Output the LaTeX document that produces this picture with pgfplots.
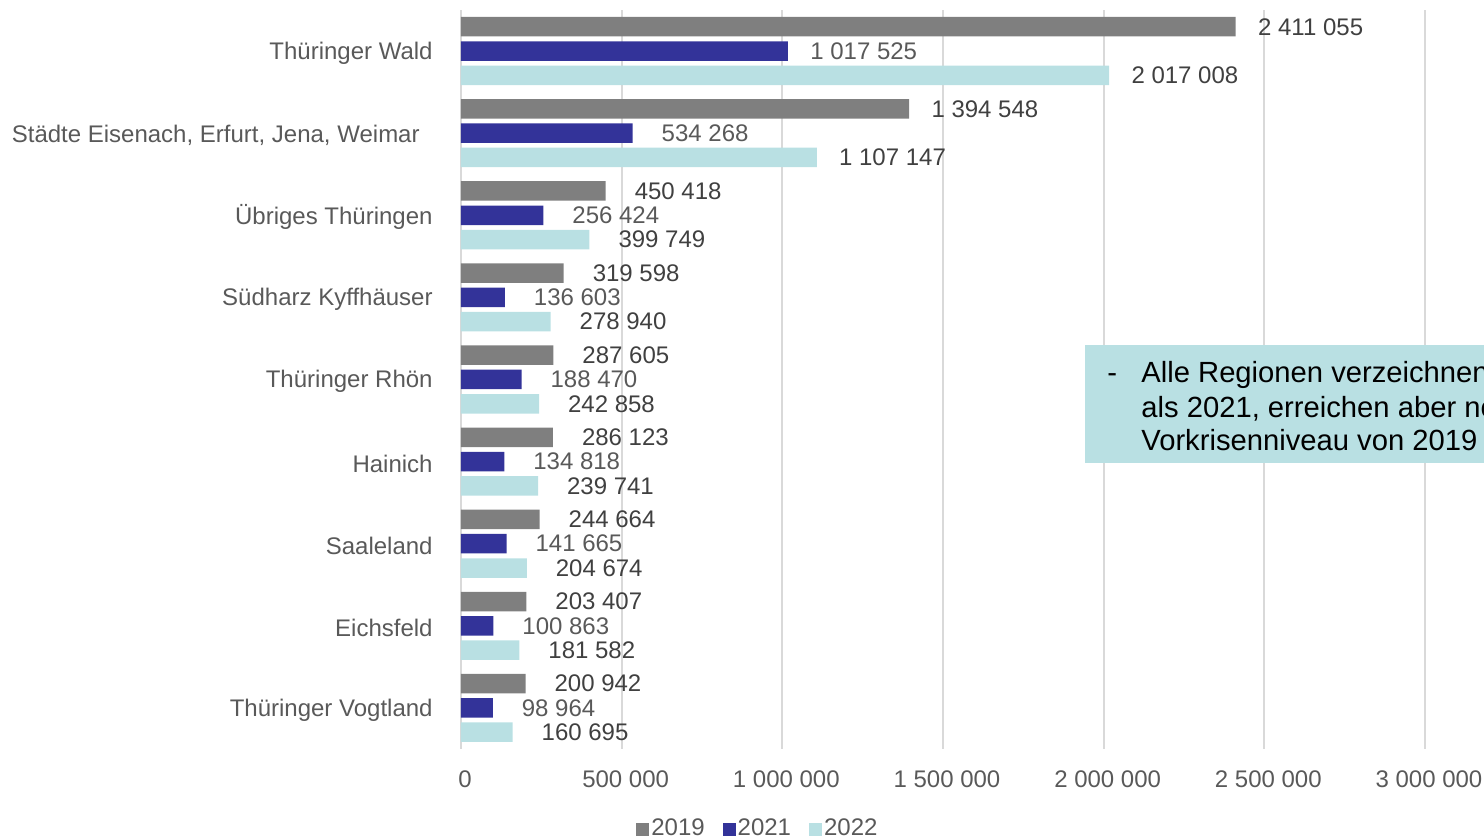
\documentclass[border=0pt]{standalone}
\usepackage{fontspec}
\setmainfont{Liberation Sans}
\usepackage{pgfplots}
\usepackage{pgfplotstable}
\pgfplotsset{compat=1.18}

\definecolor{c2019}{HTML}{7F7F7F}
\definecolor{c2021}{HTML}{333399}
\definecolor{c2022}{HTML}{B9E0E3}
\definecolor{lbl}{HTML}{595959}
\definecolor{lbldark}{HTML}{404040}
\definecolor{gridc}{HTML}{D9D9D9}

% pos 8 = top row (Thüringer Wald)
\pgfplotstableread{
pos a2019 a2021 a2022
8 2411055 1017525 2017008
7 1394548 534268 1107147
6 450418 256424 399749
5 319598 136603 278940
4 287605 188470 242858
3 286123 134818 239741
2 244664 141665 204674
1 203407 100863 181582
0 200942 98964 160695
}\data

% value label: numbers below one million get a leading space (Excel "# ### ###")
\newcommand\vallabel{%
  \pgfmathfloatparsenumber{1000000}\let\vlim\pgfmathresult
  \pgfmathfloatparsenumber{\pgfplotspointmeta}\let\vval\pgfmathresult
  \pgfmathfloatlessthan{\vval}{\vlim}%
  \ifpgfmathfloatcomparison\ \fi
  \pgfmathprintnumber{\pgfplotspointmeta}}

\begin{document}
\begin{tikzpicture}
\begin{axis}[
  scale only axis,
  width=482pt, height=369.5pt,
  xbar, bar width=9.75pt,
  xmin=0, xmax=3000000,
  ymin=-0.5, ymax=8.5,
  clip=false,
  axis line style={draw=none},
  major tick length=0pt,
  xmajorgrids, grid style={gridc, line width=1pt},
  xtick={0,500000,1000000,1500000,2000000,2500000,3000000},
  scaled x ticks=false,
  ytick={0,1,2,3,4,5,6,7,8},
  yticklabels={Thüringer Vogtland, Eichsfeld, Saaleland, Hainich, Thüringer Rhön,
    Südharz Kyffhäuser, Übriges Thüringen, {Städte Eisenach, Erfurt, Jena, Weimar\rule{6.5pt}{0pt}}, Thüringer Wald},
  tick label style={font=\fontsize{12}{14}\selectfont, text=lbl, inner sep=0pt},
  xticklabel style={anchor=north, yshift=-10.75pt, xshift=2pt},
  yticklabel style={anchor=east, xshift=-14pt, yshift=-1pt},
  /pgf/number format/fixed,
  /pgf/number format/precision=0,
  /pgf/number format/1000 sep={\ },
  /pgf/number format/assume math mode=true,
  point meta=x,
  nodes near coords={\vallabel},
  every node near coord/.append style={font=\fontsize{12}{14}\selectfont,
    inner sep=0pt, anchor=west, xshift=11pt},
  legend columns=-1,
  legend style={at={(axis description cs:0.308,-0.1083)}, anchor=center,
    draw=none, fill=none, font=\fontsize{12}{14}\selectfont, text=lbl,
    nodes={inner sep=1pt},
    /tikz/every odd column/.append style={column sep=0pt},
    /tikz/every even column/.append style={column sep=8pt}},
  legend image code/.code={\fill[#1] (0pt,-3.25pt) rectangle (6.5pt,3.25pt);},
]
\addplot[fill=c2019, draw=none, bar shift=12.15pt,
  every node near coord/.append style={text=lbldark}]
  table[x=a2019, y=pos] {\data};
\addplot[fill=c2021, draw=none, bar shift=0pt,
  every node near coord/.append style={text=lbl}]
  table[x=a2021, y=pos] {\data};
\addplot[fill=c2022, draw=none, bar shift=-12.15pt,
  every node near coord/.append style={text=lbldark}]
  table[x=a2022, y=pos] {\data};
\legend{2019, 2021, 2022}
\end{axis}

% note box (cut off at the right edge, as in the original)
\fill[c2022] (312pt,143pt) rectangle (620pt,202pt);
\begin{scope}[every node/.style={inner sep=0pt, anchor=base west,
    font=\fontsize{14.6}{17}\selectfont, text=black}]
\node at (323pt,183pt) {-};
\node at (340pt,183pt) {Alle Regionen verzeichnen mehr};
\node at (340pt,165.5pt) {als 2021, erreichen aber noch};
\node at (340pt,149pt) {Vorkrisenniveau von 2019};
\end{scope}

\pgfresetboundingbox
\useasboundingbox (-230.5pt,-45pt) rectangle (511.5pt,374.5pt);
\end{tikzpicture}
\end{document}
